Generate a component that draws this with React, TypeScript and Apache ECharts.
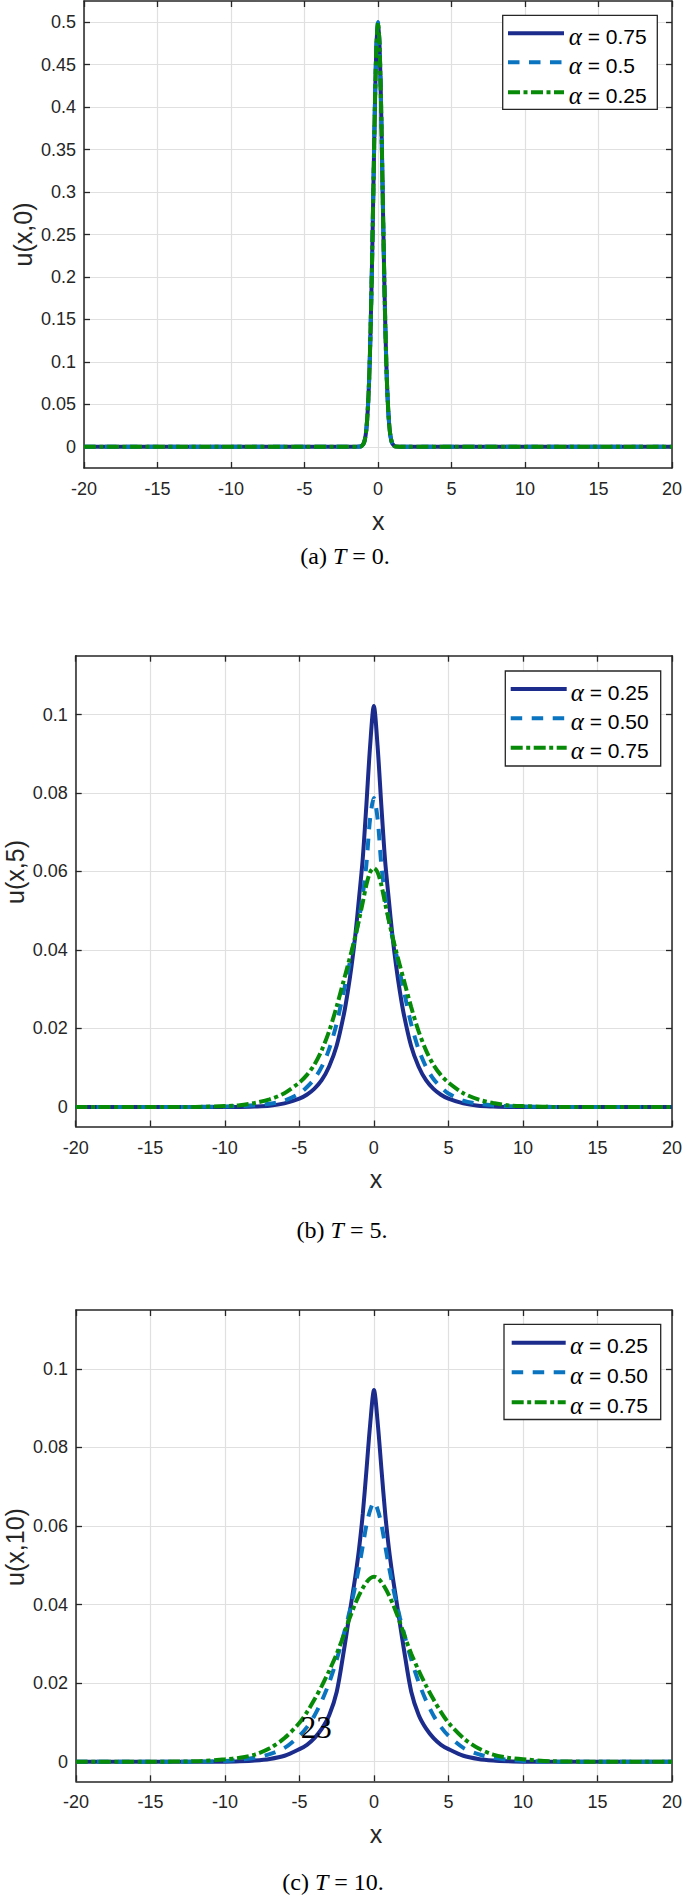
import React, { useEffect, useRef } from 'react';
import * as echarts from 'echarts';

// ---------- data ----------
const X_T0 = [-20, -10, -5, -2, -1.2, -1, -0.9, -0.8, -0.7, -0.6, -0.5, -0.4, -0.3, -0.2, -0.1, 0, 0.1, 0.2, 0.3, 0.4, 0.5, 0.6, 0.7, 0.8, 0.9, 1, 1.2, 2, 5, 10, 20];
const U0_A075 = [0, 0, 0, 0, 0.0003, 0.003, 0.008, 0.019, 0.042, 0.08, 0.141, 0.222, 0.317, 0.41, 0.475, 0.5, 0.475, 0.41, 0.317, 0.222, 0.141, 0.08, 0.042, 0.019, 0.008, 0.003, 0.0003, 0, 0, 0, 0];
const U0_A05 = [0, 0, 0, 0, 0.0003, 0.003, 0.008, 0.019, 0.042, 0.08, 0.141, 0.222, 0.317, 0.41, 0.475, 0.5, 0.475, 0.41, 0.317, 0.222, 0.141, 0.08, 0.042, 0.019, 0.008, 0.003, 0.0003, 0, 0, 0, 0];
const U0_A025 = [0, 0, 0, 0, 0.0003, 0.003, 0.008, 0.019, 0.042, 0.08, 0.141, 0.222, 0.317, 0.41, 0.475, 0.5, 0.475, 0.41, 0.317, 0.222, 0.141, 0.08, 0.042, 0.019, 0.008, 0.003, 0.0003, 0, 0, 0, 0];

const X_T = [-20, -15, -12, -10, -9, -8, -7, -6, -5, -4.5, -4, -3.5, -3, -2.5, -2, -1.75, -1.5, -1.25, -1, -0.75, -0.5, -0.25, 0, 0.25, 0.5, 0.75, 1, 1.25, 1.5, 1.75, 2, 2.5, 3, 3.5, 4, 4.5, 5, 6, 7, 8, 9, 10, 12, 15, 20];

const U5_A025 = [0, 0, 0, 0, 0, 0.0001, 0.0003, 0.0009, 0.0021, 0.0031, 0.0046, 0.0068, 0.0103, 0.0155, 0.0238, 0.0293, 0.0358, 0.0435, 0.053, 0.063, 0.077, 0.092, 0.1022, 0.092, 0.077, 0.063, 0.053, 0.0435, 0.0358, 0.0293, 0.0238, 0.0155, 0.0103, 0.0068, 0.0046, 0.0031, 0.0021, 0.0009, 0.0003, 0.0001, 0, 0, 0, 0, 0];
const U5_A050 = [0, 0, 0, 0.0001, 0.0002, 0.0004, 0.0008, 0.0016, 0.0034, 0.005, 0.0071, 0.0102, 0.0147, 0.0212, 0.0298, 0.0342, 0.039, 0.0432, 0.0478, 0.0538, 0.0618, 0.0735, 0.0787, 0.0735, 0.0618, 0.0538, 0.0478, 0.0432, 0.039, 0.0342, 0.0298, 0.0212, 0.0147, 0.0102, 0.0071, 0.005, 0.0034, 0.0016, 0.0008, 0.0004, 0.0002, 0.0001, 0, 0, 0];
const U5_A075 = [0, 0, 0, 0.0002, 0.0004, 0.001, 0.0019, 0.0035, 0.0062, 0.0081, 0.0107, 0.0144, 0.0193, 0.0255, 0.0325, 0.036, 0.0396, 0.0434, 0.0476, 0.052, 0.0566, 0.0598, 0.0609, 0.0598, 0.0566, 0.052, 0.0476, 0.0434, 0.0396, 0.036, 0.0325, 0.0255, 0.0193, 0.0144, 0.0107, 0.0081, 0.0062, 0.0035, 0.0019, 0.001, 0.0004, 0.0002, 0, 0, 0];

const U10_A025 = [0, 0, 0, 0, 0.0001, 0.0003, 0.0007, 0.0015, 0.0032, 0.0043, 0.006, 0.0084, 0.0119, 0.0178, 0.0288, 0.0349, 0.0411, 0.0472, 0.0543, 0.0632, 0.0745, 0.0862, 0.0946, 0.0862, 0.0745, 0.0632, 0.0543, 0.0472, 0.0411, 0.0349, 0.0288, 0.0178, 0.0119, 0.0084, 0.006, 0.0043, 0.0032, 0.0015, 0.0007, 0.0003, 0.0001, 0, 0, 0, 0];
const U10_A050 = [0, 0, 0, 0.0002, 0.0005, 0.001, 0.0019, 0.0035, 0.0066, 0.0088, 0.0117, 0.0155, 0.0202, 0.026, 0.0329, 0.0365, 0.0405, 0.0449, 0.0497, 0.055, 0.0604, 0.0641, 0.0661, 0.0641, 0.0604, 0.055, 0.0497, 0.0449, 0.0405, 0.0365, 0.0329, 0.026, 0.0202, 0.0155, 0.0117, 0.0088, 0.0066, 0.0035, 0.0019, 0.001, 0.0005, 0.0002, 0, 0, 0];
const U10_A075 = [0, 0, 0.0001, 0.0006, 0.001, 0.0018, 0.0034, 0.006, 0.0099, 0.0126, 0.0158, 0.0193, 0.0232, 0.0275, 0.0325, 0.0354, 0.0379, 0.0403, 0.0424, 0.0442, 0.0457, 0.0467, 0.0471, 0.0467, 0.0457, 0.0442, 0.0424, 0.0403, 0.0379, 0.0354, 0.0325, 0.0275, 0.0232, 0.0193, 0.0158, 0.0126, 0.0099, 0.006, 0.0034, 0.0018, 0.001, 0.0006, 0.0001, 0, 0];

const X_TICK_MIN = -20;
const X_TICK_MAX = 20;
const X_TICK_STEP = 5;
const Y_TICKS_T0 = [0, 0.05, 0.1, 0.15, 0.2, 0.25, 0.3, 0.35, 0.4, 0.45, 0.5];
const Y_TICKS_T = [0, 0.02, 0.04, 0.06, 0.08, 0.1];

const LEGEND_T0 = [' = 0.75', ' = 0.5', ' = 0.25'];
const LEGEND_T = [' = 0.25', ' = 0.50', ' = 0.75'];
const Y_NAMES = ['u(x,0)', 'u(x,5)', 'u(x,10)'];
const CAPTIONS = [['(a) ', 'T', ' = 0.'], ['(b) ', 'T', ' = 5.'], ['(c) ', 'T', ' = 10.']];

// ---------- style ----------
const SANS = "'Liberation Sans', Arial, Helvetica, sans-serif";
const SERIF = "'Liberation Serif', 'Times New Roman', serif";
const NAVY = '#1b2c8c';
const BLUE = '#0a74c0';
const GREEN = '#078a07';
const AXIS = '#262626';
const GRIDC = '#e0e0e0';
const LW = 4;
const DASH = [11.5, 9.5];
const DASHDOT = [12, 3.5, 4, 3.5];

const fmt = (v: number) => String(parseFloat(Number(v).toFixed(4)));

export default function App() {
  const ref = useRef<HTMLDivElement>(null);
  useEffect(() => {
    if (!ref.current) return;
    const chart = echarts.init(ref.current, null, { renderer: 'svg' });

    const grids = [
      { left: 84, top: 1, width: 588.5, height: 467 },
      { left: 75.7, top: 655.7, width: 600.3, height: 470.8 },
      { left: 76, top: 1310, width: 599.7, height: 471.3 },
    ];
    const yRanges = [
      { min: -0.025, max: 0.525, ticks: Y_TICKS_T0 },
      { min: -0.005, max: 0.115, ticks: Y_TICKS_T },
      { min: -0.005, max: 0.115, ticks: Y_TICKS_T },
    ];

    const axisLine = { show: true, onZero: false, lineStyle: { color: AXIS, width: 1.5 } };
    const tick = { show: true, inside: true, length: 6, lineStyle: { color: AXIS, width: 1.3 } };
    const xAxis: any[] = [];
    const yAxis: any[] = [];
    grids.forEach((_, i) => {
      xAxis.push({
        type: 'value', gridIndex: i, min: X_TICK_MIN, max: X_TICK_MAX, interval: X_TICK_STEP, position: 'bottom',
        axisLine, axisTick: tick,
        axisLabel: { color: AXIS, fontSize: 18, fontFamily: SANS, margin: 12 },
        splitLine: { show: true, lineStyle: { color: GRIDC, width: 1.2 } },
      });
      xAxis.push({
        type: 'value', gridIndex: i, min: X_TICK_MIN, max: X_TICK_MAX, interval: X_TICK_STEP, position: 'top',
        axisLine, axisTick: tick, axisLabel: { show: false }, splitLine: { show: false },
      });
      const r = yRanges[i];
      yAxis.push({
        type: 'value', gridIndex: i, min: r.min, max: r.max, position: 'left',
        axisLine, axisTick: { ...tick, customValues: r.ticks },
        axisLabel: { customValues: r.ticks, color: AXIS, fontSize: 18, fontFamily: SANS, margin: 8, formatter: fmt },
        splitLine: { show: true, lineStyle: { color: GRIDC, width: 1.2 } },
      });
      yAxis.push({
        type: 'value', gridIndex: i, min: r.min, max: r.max, position: 'right',
        axisLine, axisTick: { ...tick, customValues: r.ticks },
        axisLabel: { show: false }, splitLine: { show: false },
      });
    });

    const pairs = (xs: number[], ys: number[]) => xs.map((x, k) => [x, ys[k]]);
    const colors = [NAVY, BLUE, GREEN];
    const dashes: any[] = ['solid', DASH, DASHDOT];

    const plotData = [
      { xs: X_T0, ys: [U0_A075, U0_A05, U0_A025], labels: LEGEND_T0 },
      { xs: X_T, ys: [U5_A025, U5_A050, U5_A075], labels: LEGEND_T },
      { xs: X_T, ys: [U10_A025, U10_A050, U10_A075], labels: LEGEND_T },
    ];
    const series: any[] = [];
    plotData.forEach((p, i) => {
      p.ys.forEach((ys, j) => {
        series.push({
          type: 'line', name: `p${i}s${j}`, xAxisIndex: 2 * i, yAxisIndex: 2 * i,
          data: pairs(p.xs, ys), symbol: 'none', showSymbol: false, smooth: 0.3,
          lineStyle: { color: colors[j], width: LW, type: dashes[j], cap: 'butt' },
          itemStyle: { color: colors[j] },
          z: 2 + j, silent: true,
        });
      });
    });

    // legends (boxes drawn as graphics)
    const legBox = [
      { x: 502.7, y: 15.3, w: 154.6, h: 94 },
      { x: 505.3, y: 671, w: 155.4, h: 95 },
      { x: 504, y: 1324.3, w: 156.7, h: 95.2 },
    ];
    const legRows = [[33.3, 62.3, 92.3], [689, 718.3, 747.7], [1342.7, 1372.3, 1402.3]];
    const legLineX = [[508, 564], [510.7, 566.7], [511.7, 565.7]];
    const legTextX = [568.7, 570.7, 570];

    const graphic: any[] = [];
    plotData.forEach((p, i) => {
      const b = legBox[i];
      graphic.push({
        type: 'rect', z: 50, shape: { x: b.x, y: b.y, width: b.w, height: b.h },
        style: { fill: '#fff', stroke: AXIS, lineWidth: 1.3 },
      });
      p.labels.forEach((lab, j) => {
        const ly = legRows[i][j];
        graphic.push({
          type: 'line', z: 51,
          shape: { x1: legLineX[i][0], y1: ly, x2: legLineX[i][1], y2: ly },
          style: { stroke: colors[j], lineWidth: LW, lineDash: j === 0 ? null : j === 1 ? DASH : DASHDOT, lineCap: 'butt' },
        });
        graphic.push({
          type: 'text', z: 51, x: legTextX[i], y: ly + 3,
          style: {
            text: '{a|α}' + lab, fontSize: 21, fontFamily: SANS, fill: '#000', align: 'left', verticalAlign: 'middle',
            rich: { a: { fontFamily: SERIF, fontStyle: 'italic', fontSize: 25, fill: '#000' } },
          },
        });
      });
    });

    const yNamePos = [[23, 234.5], [14.5, 872], [14.5, 1547]];
    const xNamePos = [[378.2, 520.7], [375.9, 1179], [375.9, 1834]];
    const capPos = [[345, 556], [342, 1230], [333, 1882]];
    for (let i = 0; i < 3; i++) {
      graphic.push({
        type: 'text', x: yNamePos[i][0], y: yNamePos[i][1], rotation: Math.PI / 2, z: 100,
        style: { text: Y_NAMES[i], fontSize: 25, fontFamily: SANS, fill: AXIS, align: 'center', verticalAlign: 'middle' },
      });
      graphic.push({
        type: 'text', x: xNamePos[i][0], y: xNamePos[i][1], z: 100,
        style: { text: 'x', fontSize: 25, fontFamily: SANS, fill: AXIS, align: 'center', verticalAlign: 'middle' },
      });
      graphic.push({
        type: 'text', x: capPos[i][0], y: capPos[i][1], z: 100,
        style: {
          text: CAPTIONS[i][0] + '{i|' + CAPTIONS[i][1] + '}' + CAPTIONS[i][2],
          fontSize: 24, fontFamily: SERIF, fill: '#000', align: 'center', verticalAlign: 'middle',
          rich: { i: { fontStyle: 'italic', fontSize: 24, fontFamily: SERIF, fill: '#000' } },
        },
      });
    }
    graphic.push({
      type: 'text', x: 316.3, y: 1727, z: 100,
      style: { text: '23', fontSize: 31, fontFamily: SERIF, fill: '#000', align: 'center', verticalAlign: 'middle' },
    });

    chart.setOption({
      animation: false,
      backgroundColor: '#fff',
      grid: grids.map((g) => ({ ...g, containLabel: false })),
      xAxis, yAxis, series, graphic,
    });
    return () => chart.dispose();
  }, []);
  return <div ref={ref} style={{ position: 'absolute', left: 0, top: 0, width: 685, height: 1897 }} />;
}
